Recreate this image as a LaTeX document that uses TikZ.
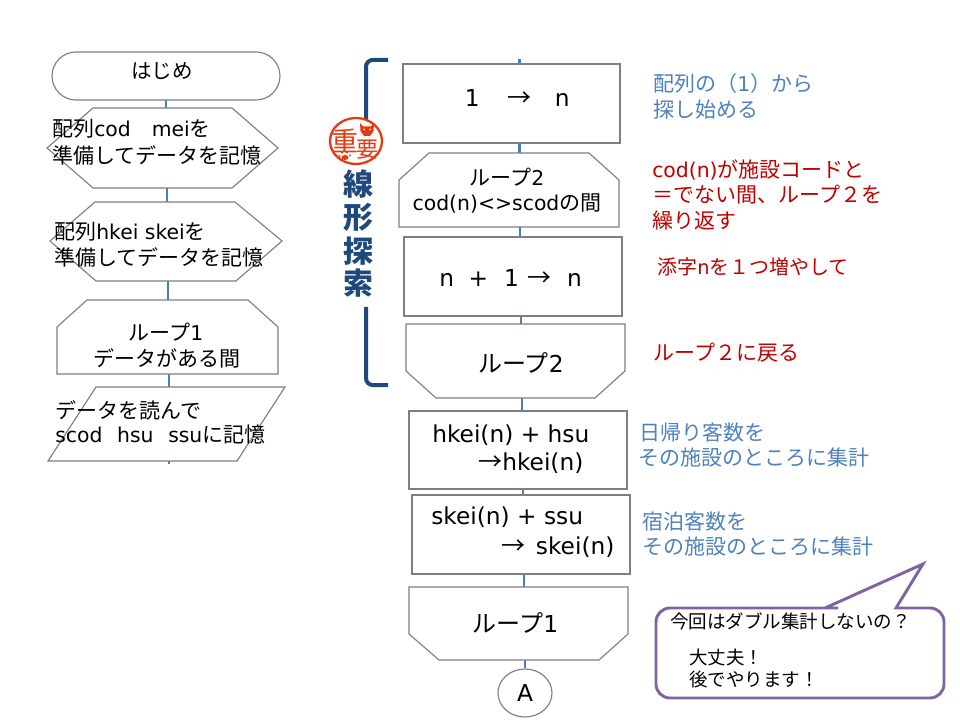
\documentclass[tikz,border=0pt]{standalone}
\usepackage{fontspec}
\setmainfont{Noto Sans CJK JP}
\newfontfamily\lat[Scale=0.97]{DejaVu Sans}
\usetikzlibrary{shapes.geometric}
\definecolor{edgegray}{HTML}{7F7F7F}
\definecolor{connblue}{HTML}{4A7EBB}
\definecolor{navy}{HTML}{1F497D}
\definecolor{noteblue}{HTML}{4F81BD}
\definecolor{notered}{HTML}{C00000}
\definecolor{callpurple}{HTML}{8064A2}
\definecolor{stampred}{HTML}{E8380D}
\newcommand{\fs}[1]{\fontsize{\dimexpr#1pt*3/4\relax}{\dimexpr#1pt*4/4\relax}\selectfont}
\tikzset{
  x=0.75pt,y=-0.75pt,
  flowshape/.style={draw=edgegray,line width=0.85pt,fill=white,line join=miter},
  conn/.style={draw=connblue,line width=1.7pt},
  anch/.style={inner sep=0,outer sep=0,minimum width=30pt},
  lbl/.style={anchor=west,inner sep=0,text=black,font=\fs{21}},
  clbl/.style={anchor=center,inner sep=0,text=black,font=\fs{21}},
  big/.style={font=\fs{24}},
  noteb/.style={lbl,text=noteblue},
  noter/.style={lbl,text=notered},
  calltxt/.style={lbl,font=\fs{18.5}},
  brk/.style={draw=navy,line width=3pt,rounded corners=5pt},
  title/.style={anchor=center,inner sep=0,text=navy,font=\bfseries\fs{30}},
  stamptxt/.style={anchor=center,inner sep=0,text=stampred},
}
\newcommand{\anchorbox}[4]{\node[anch,minimum height=#4*0.75pt] (#1) at (#2,#3) {};}
\begin{document}
\begin{tikzpicture}
\useasboundingbox (0,0) rectangle (960,720);
\fill[white] (0,0) rectangle (960,720);
% anchors on the connector axis
\anchorbox{start}{166}{76}{48}
\anchorbox{hexa}{167}{148}{80}
\anchorbox{hexb}{168}{241.5}{79}
\anchorbox{loopa}{169}{337}{74}
\anchorbox{para}{169}{424}{74}
\coordinate (paraend) at (169,464);
\coordinate (mainbegin) at (519.5,59);
\anchorbox{boxa}{519.5}{103.5}{79}
\anchorbox{loopb}{520}{190}{74}
\anchorbox{boxb}{521}{276.5}{79}
\anchorbox{loopc}{522}{361}{74}
\anchorbox{boxc}{523}{450}{78}
\anchorbox{boxd}{524}{534.5}{79}
\anchorbox{loopd}{525}{623.5}{73}
% connectors
\draw[conn] (start.south) -- (start.south |- hexa.north);
\draw[conn] (hexa.south) -- (hexa.south |- hexb.north);
\draw[conn] (hexb.south) -- (hexb.south |- loopa.north);
\draw[conn] (loopa.south) -- (para.north);
\draw[conn] (para.south) -- (paraend);
\draw[conn] (mainbegin) -- (boxa.north);
\draw[conn] (boxa.south) -- (boxa.south |- loopb.north);
\draw[conn] (loopb.south) -- (loopb.south |- boxb.north);
\draw[conn] (boxb.south) -- (boxb.south |- loopc.north);
\draw[conn] (loopc.south) -- (loopc.south |- boxc.north);
\draw[conn] (boxc.south) -- (boxc.south |- boxd.north);
\draw[conn] (boxd.south) -- (boxd.south |- loopd.north);
\node[draw=edgegray,line width=0.85pt,ellipse,fill=white,inner sep=0,minimum width=40.5pt,minimum height=36pt] (conna) at (525,693) {};
\draw[conn] (loopd.south) -- (conna.north);
% left column shapes
\draw[flowshape,rounded corners=18pt] (52,52) rectangle (280,100);
\draw[flowshape] (93,108) -- (232,108) -- (278,148) -- (232,188) -- (93,188) -- (47,148) -- cycle;
\draw[flowshape] (95,202) -- (235,202) -- (282,241) -- (236,281) -- (96,281) -- (50,241) -- cycle;
\draw[flowshape] (87,300) -- (248,300) -- (278,327) -- (278,374) -- (57,374) -- (57,327) -- cycle;
\draw[flowshape] (96,387) -- (285,387) -- (237,461) -- (48,461) -- cycle;
% main column shapes
\draw[flowshape] (403,64) rectangle (620,143);
\draw[flowshape] (429,153) -- (589,153) -- (619,180) -- (619,227) -- (399,227) -- (399,180) -- cycle;
\draw[flowshape] (404,237) rectangle (622,316);
\draw[flowshape] (406,324) -- (625,324) -- (625,371) -- (595,398) -- (436,398) -- (406,371) -- cycle;
\draw[flowshape] (409,411) rectangle (627,489);
\draw[flowshape] (412,495) rectangle (630,574);
\draw[flowshape] (409,587) -- (628,587) -- (628,634) -- (599,660) -- (439,660) -- (409,634) -- cycle;
% left column text
\node[clbl,font=\fs{20.5}] (t1) at (162,71) {はじめ};
\node[lbl] (t2) at (52,129) {配列{\lat cod}　{\lat mei}を};
\node[lbl] (t3) at (52,155) {準備してデータを記憶};
\node[lbl] (t4) at (54,232) {配列{\lat hkei skei}を};
\node[lbl] (t5) at (54,257) {準備してデータを記憶};
\node[clbl] (t6) at (166,332) {ループ{\lat 1}};
\node[clbl] (t7) at (167,358) {データがある間};
\node[lbl] (t8) at (55,410) {データを読んで};
\node[lbl] (t9) at (55,435) {{\lat scod}\hspace{11pt}{\lat hsu}\hspace{11pt}{\lat ssu}に記憶};
% main column text
\node[lbl,big] (m1) at (464.5,98) {{\lat 1}\hspace{21pt}→\hspace{17.5pt}{\lat n}};
\node[clbl] (m2) at (507,177) {ループ{\lat 2}};
\node[clbl] (m3) at (507,203) {{\lat cod(n)<>scod}の間};
\node[lbl,big] (m4) at (439,278) {{\lat n}\hspace{11pt}{\lat +}\hspace{12pt}{\lat 1}\hspace{6pt}→\hspace{12pt}{\lat n}};
\node[clbl,big] (m5) at (521,363) {ループ{\lat 2}};
\node[lbl,big] (m6) at (432,435) {\lat hkei(n) + hsu};
\node[lbl,big] (m7) at (478,463) {→{\lat hkei(n)}};
\node[lbl,big] (m8) at (431,517) {\lat skei(n) + ssu};
\node[lbl,big] (m9) at (501,547) {→\hspace{8pt}{\lat skei(n)}};
\node[clbl,big] (m10) at (515.5,623) {ループ{\lat 1}};
\node[clbl,big] (m11) at (conna.center) {\lat A};
% notes
\node[noteb] (n1) at (653,84) {配列の（{\lat 1}）から};
\node[noteb] (n2) at (653,110) {探し始める};
\node[noter] (n3) at (652,170) {{\lat cod(n)}が施設コードと};
\node[noter] (n4) at (652,195) {＝でない間、ループ２を};
\node[noter] (n5) at (652,220) {繰り返す};
\node[noter,font=\fs{20}] (n6) at (657,267) {添字{\lat n}を１つ増やして};
\node[noter] (n7) at (653,353) {ループ２に戻る};
\node[noteb] (n8) at (639,433) {日帰り客数を};
\node[noteb] (n9) at (638,458) {その施設のところに集計};
\node[noteb] (n10) at (642,522) {宿泊客数を};
\node[noteb] (n11) at (642,547) {その施設のところに集計};
% bracket and title
\draw[brk] (388,60) -- (366,60) -- (366,135);
\draw[brk] (366,307) -- (366,385) -- (388,385);
\node[title] (s1) at (358,184) {線};
\node[title] (s2) at (358,217) {形};
\node[title] (s3) at (358,251) {探};
\node[title] (s4) at (358,283) {索};
% stamp
\draw[stampred,line width=1.7pt,fill=white] (356,141) ellipse (26 and 23);
\node[stamptxt,font=\fs{27}] (st1) at (345,141) {重};
\node[stamptxt,font=\fs{22}] (st2) at (367,150) {要};
\fill[stampred] (360,123) -- (363,126.5) -- (371,126.5) -- (374,123) -- (373.5,131) -- (370,136) -- (364,136) -- (360.5,131) -- cycle;
\fill[white] (364,129.5) circle (1) (370,129.5) circle (1);
\fill[stampred] (345,157.5) ellipse (3.5 and 2.5) (339.5,156) circle (1.2) (342,152.5) circle (1.2) (347,152.5) circle (1.2) (350,155.5) circle (1.2);
% callout
\draw[draw=callpurple,line width=2.2pt,fill=white,line join=miter]
  (825,608) -- (923,564) -- (896,608) -- (897,608) [rounded corners=10.5pt]
  -- (944,608) -- (944,698) -- (656,698) -- (656,608) -- (824,608) [sharp corners] -- cycle;
\node[calltxt] (c1) at (670,621) {今回はダブル集計しないの？};
\node[calltxt] (c2) at (689,657) {大丈夫！};
\node[calltxt] (c3) at (689,679) {後でやります！};
\end{tikzpicture}
\end{document}
